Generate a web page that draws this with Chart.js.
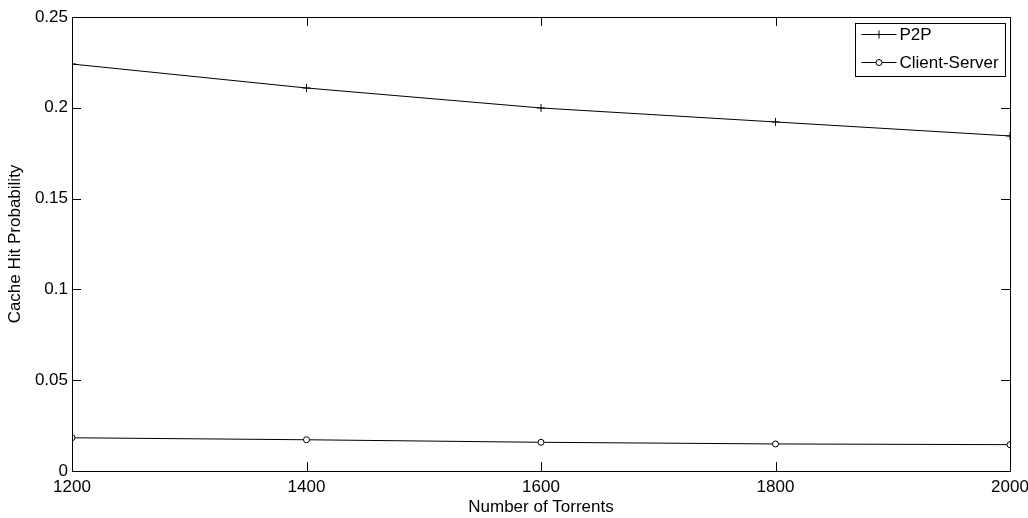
<!DOCTYPE html>
<html>
<head>
<meta charset="utf-8">
<script src="https://cdn.jsdelivr.net/npm/chart.js@4/dist/chart.umd.min.js"></script>
<style>
  html, body { margin: 0; padding: 0; background: #fff; }
  #wrap { width: 1028px; height: 518px; }
</style>
</head>
<body>
<div id="wrap"><canvas id="cacheChart" width="1028" height="518"></canvas></div>
<script>
// values
var torrents = [1200, 1400, 1600, 1800, 2000];
var p2pHit = [0.2241, 0.2109, 0.1999, 0.1922, 0.1845];
var clientServerHit = [0.0183, 0.0172, 0.0158, 0.0149, 0.0145];
var seriesLabels = ['P2P', 'Client-Server'];
var xTicks = [1200, 1400, 1600, 1800, 2000];
var yTicks = [0, 0.05, 0.1, 0.15, 0.2, 0.25];

var FONT = 'Liberation Sans, Arial, Helvetica, sans-serif';
var TICK_LEN = 9;

function toPoints(xs, ys) {
    var pts = [];
    for (var i = 0; i < xs.length; i++) {
        pts.push({x: xs[i], y: ys[i]});
    }
    return pts;
}

// matlab style box with inward ticks on all four sides
var boxPlugin = {
    id: 'matlabBox',
    afterDraw: function(chart) {
        var ctx = chart.ctx;
        var a = chart.chartArea;
        var xs = chart.scales.x, ys = chart.scales.y;
        ctx.save();
        ctx.strokeStyle = '#000';
        ctx.lineWidth = 1;
        ctx.beginPath();
        xTicks.forEach(function(v) {
            var px = Math.round(xs.getPixelForValue(v)) + 0.5;
            ctx.moveTo(px, a.bottom);
            ctx.lineTo(px, a.bottom - TICK_LEN);
            ctx.moveTo(px, a.top);
            ctx.lineTo(px, a.top + TICK_LEN);
        });
        yTicks.forEach(function(v) {
            var py = Math.round(ys.getPixelForValue(v)) + 0.5;
            ctx.moveTo(a.left, py);
            ctx.lineTo(a.left + TICK_LEN, py);
            ctx.moveTo(a.right, py);
            ctx.lineTo(a.right - TICK_LEN, py);
        });
        ctx.stroke();
        ctx.strokeRect(Math.round(a.left) + 0.5, Math.round(a.top) + 0.5,
            Math.round(a.right - a.left), Math.round(a.bottom - a.top));

        // legend box in the upper right corner
        var bx = Math.round(a.right) - 155 + 0.5;
        var by = Math.round(a.top) + 6 + 0.5;
        var bw = 150, bh = 53;
        ctx.fillStyle = '#fff';
        ctx.fillRect(bx, by, bw, bh);
        ctx.strokeStyle = '#000';
        ctx.strokeRect(bx, by, bw, bh);
        ctx.font = '17px ' + FONT;
        ctx.textBaseline = 'middle';
        ctx.textAlign = 'left';
        chart.data.datasets.forEach(function(ds, i) {
            var rowY = Math.round(by + 10 + i * 28) + 0.5;
            var x0 = bx + 6, x1 = bx + 41;
            ctx.strokeStyle = ds.borderColor;
            ctx.beginPath();
            ctx.moveTo(x0, rowY);
            ctx.lineTo(x1, rowY);
            ctx.stroke();
            var mx = (x0 + x1) / 2;
            if (ds.pointStyle === 'cross') {
                ctx.beginPath();
                ctx.moveTo(mx, rowY - 4);
                ctx.lineTo(mx, rowY + 4);
                ctx.stroke();
            } else {
                ctx.beginPath();
                ctx.arc(mx, rowY, 3, 0, Math.PI * 2);
                ctx.fillStyle = '#fff';
                ctx.fill();
                ctx.stroke();
            }
            ctx.fillStyle = '#000';
            ctx.fillText(ds.label, bx + 44, rowY + 1);
        });
        ctx.restore();
    }
};

var chart = new Chart(document.getElementById('cacheChart').getContext('2d'), {
    type: 'line',
    data: {
        datasets: [{
            label: seriesLabels[0],
            data: toPoints(torrents, p2pHit),
            borderColor: '#000',
            borderWidth: 1,
            backgroundColor: '#000',
            pointStyle: 'cross',
            pointRadius: 4,
            pointBorderWidth: 1,
            tension: 0
        }, {
            label: seriesLabels[1],
            data: toPoints(torrents, clientServerHit),
            borderColor: '#000',
            borderWidth: 1,
            backgroundColor: '#fff',
            pointStyle: 'circle',
            pointRadius: 3,
            pointBorderWidth: 1,
            tension: 0
        }]
    },
    options: {
        responsive: false,
        animation: false,
        events: [],
        layout: {padding: {top: 17, right: 18, left: 0, bottom: 0}},
        plugins: {
            legend: {display: false},
            tooltip: {enabled: false}
        },
        scales: {
            x: {
                type: 'linear',
                min: 1200,
                max: 2000,
                afterBuildTicks: function(scale) {
                    scale.ticks = xTicks.map(function(v) { return {value: v}; });
                },
                afterFit: function(scale) {
                    scale.height = 47;
                    scale.paddingLeft = 0;
                    scale.paddingRight = 0;
                },
                grid: {drawOnChartArea: false, drawTicks: false},
                border: {display: false},
                ticks: {
                    color: '#000',
                    padding: 6,
                    maxRotation: 0,
                    font: {family: FONT, size: 17},
                    callback: function(v) { return String(v); }
                },
                title: {
                    display: true,
                    text: 'Number of Torrents',
                    color: '#000',
                    padding: {top: 0, bottom: 0},
                    font: {family: FONT, size: 17}
                }
            },
            y: {
                min: 0,
                max: 0.25,
                afterBuildTicks: function(scale) {
                    scale.ticks = yTicks.map(function(v) { return {value: v}; });
                },
                afterFit: function(scale) {
                    scale.width = 72;
                    scale.paddingTop = 0;
                    scale.paddingBottom = 0;
                },
                grid: {drawOnChartArea: false, drawTicks: false},
                border: {display: false},
                ticks: {
                    color: '#000',
                    padding: 4,
                    font: {family: FONT, size: 17},
                    callback: function(v) { return String(Math.round(v * 100) / 100); }
                },
                title: {
                    display: true,
                    text: 'Cache Hit Probability',
                    color: '#000',
                    padding: {top: 5, bottom: 0},
                    font: {family: FONT, size: 17}
                }
            }
        }
    },
    plugins: [boxPlugin]
});
</script>
</body>
</html>
